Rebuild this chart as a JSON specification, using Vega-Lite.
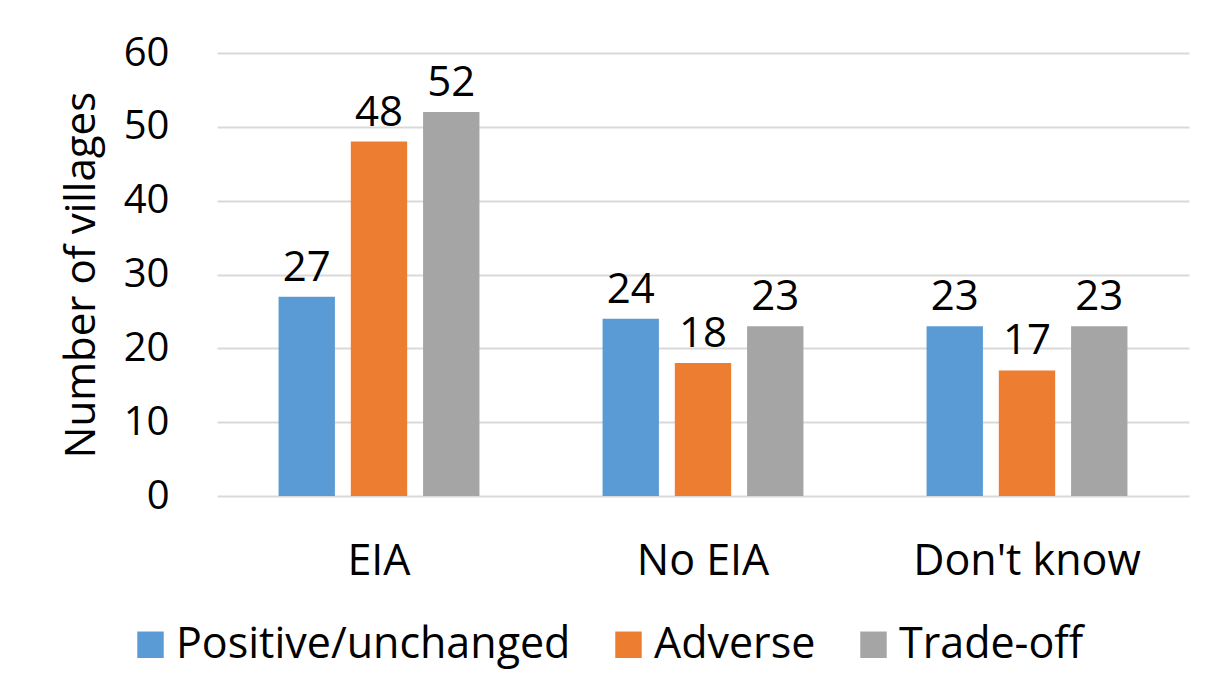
{
  "$schema": "https://vega.github.io/schema/vega-lite/v6.json",
  "autosize": {"type": "none"},
  "padding": {"left": 217, "top": 53, "right": 39, "bottom": 196},
  "width": 972,
  "height": 443,
  "background": "white",
  "data": {"values": [
    {"group": "EIA", "impact": "Positive/unchanged", "villages": 27},
    {"group": "EIA", "impact": "Adverse", "villages": 48},
    {"group": "EIA", "impact": "Trade-off", "villages": 52},
    {"group": "No EIA", "impact": "Positive/unchanged", "villages": 24},
    {"group": "No EIA", "impact": "Adverse", "villages": 18},
    {"group": "No EIA", "impact": "Trade-off", "villages": 23},
    {"group": "Don't know", "impact": "Positive/unchanged", "villages": 23},
    {"group": "Don't know", "impact": "Adverse", "villages": 17},
    {"group": "Don't know", "impact": "Trade-off", "villages": 23}
  ]},
  "encoding": {
    "x": {"field": "group", "type": "nominal", "sort": ["EIA", "No EIA", "Don't know"],
          "scale": {"paddingInner": 0.38, "paddingOuter": 0.19},
          "axis": {"title": null, "labelAngle": 0, "labelPadding": 44, "labelFontSize": 43, "labelLimit": 500, "grid": false, "domain": false, "ticks": false}},
    "xOffset": {"field": "impact", "type": "nominal", "sort": ["Positive/unchanged", "Adverse", "Trade-off"],
                "scale": {"paddingInner": 0.22, "paddingOuter": 0}},
    "y": {"field": "villages", "type": "quantitative",
          "scale": {"domain": [0, 60]},
          "axis": {"title": "Number of villages", "values": [0, 10, 20, 30, 40, 50, 60], "labelPadding": 48, "labelFontSize": 40, "titleFontSize": 42, "titleFontWeight": "normal", "titlePadding": 20, "domain": false, "ticks": false, "grid": true, "gridColor": "#d9d9d9", "gridWidth": 2}}
  },
  "layer": [
    {
      "mark": {"type": "bar"},
      "encoding": {
        "color": {"field": "impact", "type": "nominal", "sort": ["Positive/unchanged", "Adverse", "Trade-off"],
                  "scale": {"domain": ["Positive/unchanged", "Adverse", "Trade-off"], "range": ["#5B9BD5", "#ED7D31", "#A5A5A5"]},
                  "legend": {"title": null, "orient": "none", "direction": "horizontal", "legendX": -88, "legendY": 570,
                             "symbolType": "square", "symbolSize": 700, "symbolStrokeWidth": 0, "labelFontSize": 43, "labelOffset": 4, "columnPadding": 36, "labelColor": "black", "labelLimit": 600}}
      }
    },
    {
      "mark": {"type": "text", "baseline": "alphabetic", "dy": -16, "fontSize": 42, "color": "black"},
      "encoding": {"text": {"field": "villages", "type": "quantitative"}}
    }
  ],
  "config": {
    "font": "Open Sans",
    "view": {"stroke": null},
    "axis": {"labelColor": "black", "titleColor": "black", "labelFont": "Open Sans", "titleFont": "Open Sans"},
    "legend": {"labelFont": "Open Sans"}
  }
}
